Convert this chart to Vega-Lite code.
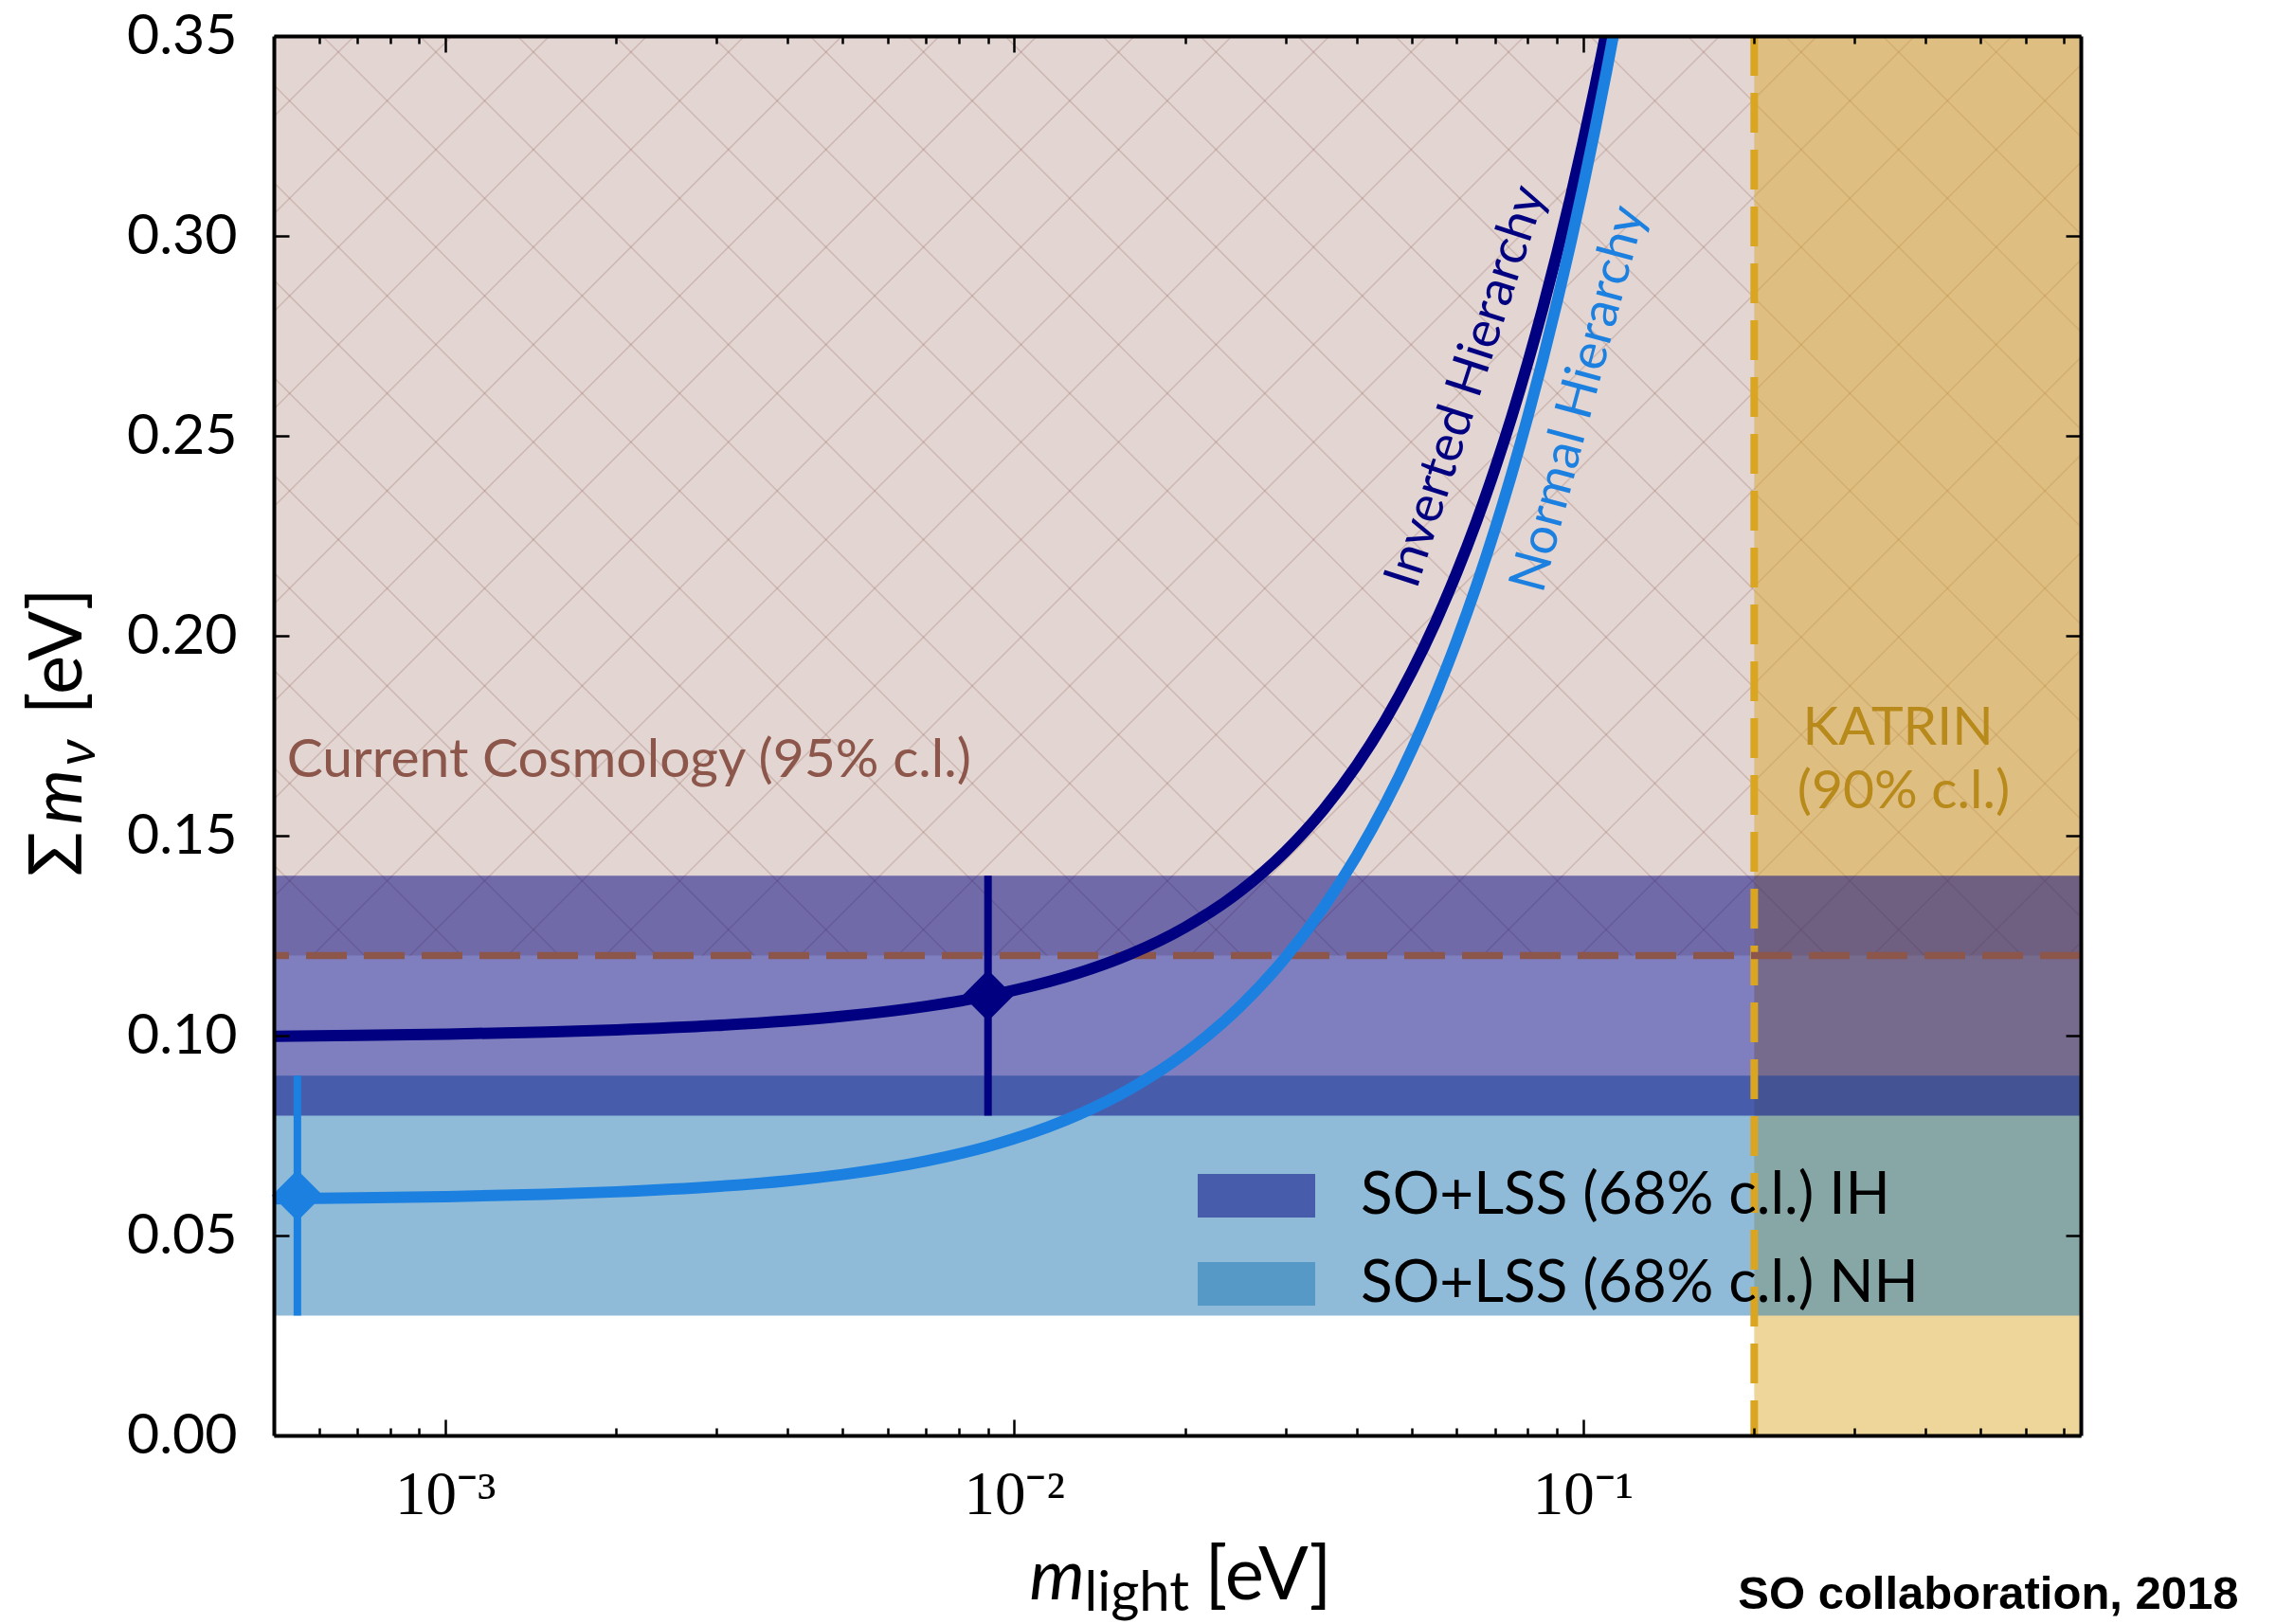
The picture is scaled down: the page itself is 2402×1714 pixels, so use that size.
{
  "$schema": "https://vega.github.io/schema/vega-lite/v6.json",
  "width": 1907,
  "height": 1477,
  "autosize": "none",
  "padding": {"left": 289, "top": 38, "right": 206, "bottom": 199},
  "background": "white",
  "config": {"view": {"stroke": null}, "font": "Lato"},
  "data": {"values": [{}]},
  "datasets": {
    "curves": [
      {"m": 0.0005, "ih": 0.09985, "nh": 0.05918},
      {"m": 0.0007, "ih": 0.10006, "nh": 0.05939},
      {"m": 0.001, "ih": 0.10037, "nh": 0.05973},
      {"m": 0.0015, "ih": 0.10089, "nh": 0.06031},
      {"m": 0.002, "ih": 0.10143, "nh": 0.06093},
      {"m": 0.003, "ih": 0.10253, "nh": 0.06226},
      {"m": 0.004, "ih": 0.10367, "nh": 0.0637},
      {"m": 0.005, "ih": 0.10485, "nh": 0.06525},
      {"m": 0.007, "ih": 0.10733, "nh": 0.06862},
      {"m": 0.009, "ih": 0.10996, "nh": 0.07229},
      {"m": 0.01, "ih": 0.11134, "nh": 0.07422},
      {"m": 0.013, "ih": 0.11569, "nh": 0.08028},
      {"m": 0.016, "ih": 0.12037, "nh": 0.08669},
      {"m": 0.02, "ih": 0.1271, "nh": 0.09565},
      {"m": 0.025, "ih": 0.13622, "nh": 0.10736},
      {"m": 0.03, "ih": 0.14606, "nh": 0.11954},
      {"m": 0.035, "ih": 0.15653, "nh": 0.13209},
      {"m": 0.04, "ih": 0.16755, "nh": 0.14496},
      {"m": 0.045, "ih": 0.17905, "nh": 0.15809},
      {"m": 0.05, "ih": 0.19096, "nh": 0.17146},
      {"m": 0.055, "ih": 0.20322, "nh": 0.18501},
      {"m": 0.06, "ih": 0.21579, "nh": 0.19872},
      {"m": 0.065, "ih": 0.22862, "nh": 0.21258},
      {"m": 0.07, "ih": 0.24167, "nh": 0.22656},
      {"m": 0.075, "ih": 0.25492, "nh": 0.24064},
      {"m": 0.08, "ih": 0.26833, "nh": 0.25481},
      {"m": 0.085, "ih": 0.2819, "nh": 0.26906},
      {"m": 0.09, "ih": 0.2956, "nh": 0.28337},
      {"m": 0.095, "ih": 0.30941, "nh": 0.29775},
      {"m": 0.1, "ih": 0.32332, "nh": 0.31218},
      {"m": 0.105, "ih": 0.33732, "nh": 0.32665},
      {"m": 0.11, "ih": 0.35139, "nh": 0.34117},
      {"m": 0.115, "ih": 0.36554, "nh": 0.35573},
      {"m": 0.12, "ih": 0.37975, "nh": 0.37031}
    ],
    "points": [
      {"h": "IH", "m": 0.009, "s": 0.11, "lo": 0.08, "hi": 0.14},
      {"h": "NH", "m": 0.00055, "s": 0.06, "lo": 0.03, "hi": 0.09}
    ]
  },
  "resolve": {"axis": {"x": "independent", "y": "independent"}},
  "layer": [
    {
      "data": {"values": [{"limit": 0.12}]},
      "mark": {"type": "rect", "fill": "#8c564b", "fillOpacity": 0.25},
      "encoding": {
        "y": {"field": "limit", "type": "quantitative", "scale": {"domain": [0, 0.35], "nice": false, "zero": false},
          "axis": {"orient": "left", "values": [0, 0.05, 0.1, 0.15, 0.2, 0.25, 0.3, 0.35], "format": ".2f", "labelFont": "Lato", "labelFontSize": 59, "labelColor": "black", "labelBaseline": "middle", "labelPadding": 55, "tickSize": -16, "tickWidth": 2.5, "tickColor": "black", "domainColor": "black", "domainWidth": 4, "title": null, "grid": false, "zindex": 1, "labelFlush": false, "labelOverlap": false}},
        "y2": {"datum": 0.35}
      }
    },
    {
      "data": {"values": [{"limit": 0.12}]},
      "mark": {"type": "rect", "fill": {"gradient": "linear", "x1": 0, "y1": 0, "x2": 1.1987, "y2": 0.6101, "stops": [
        {"offset": 0.02894, "color": "rgba(140,86,75,0)"}, {"offset": 0.02934, "color": "rgba(140,86,75,0.22)"}, {"offset": 0.02974, "color": "rgba(140,86,75,0.22)"}, {"offset": 0.03014, "color": "rgba(140,86,75,0)"},
        {"offset": 0.0647, "color": "rgba(140,86,75,0)"}, {"offset": 0.0651, "color": "rgba(140,86,75,0.22)"}, {"offset": 0.0655, "color": "rgba(140,86,75,0.22)"}, {"offset": 0.0659, "color": "rgba(140,86,75,0)"},
        {"offset": 0.10046, "color": "rgba(140,86,75,0)"}, {"offset": 0.10086, "color": "rgba(140,86,75,0.22)"}, {"offset": 0.10126, "color": "rgba(140,86,75,0.22)"}, {"offset": 0.10166, "color": "rgba(140,86,75,0)"},
        {"offset": 0.13622, "color": "rgba(140,86,75,0)"}, {"offset": 0.13662, "color": "rgba(140,86,75,0.22)"}, {"offset": 0.13702, "color": "rgba(140,86,75,0.22)"}, {"offset": 0.13742, "color": "rgba(140,86,75,0)"},
        {"offset": 0.17198, "color": "rgba(140,86,75,0)"}, {"offset": 0.17238, "color": "rgba(140,86,75,0.22)"}, {"offset": 0.17278, "color": "rgba(140,86,75,0.22)"}, {"offset": 0.17318, "color": "rgba(140,86,75,0)"},
        {"offset": 0.20773, "color": "rgba(140,86,75,0)"}, {"offset": 0.20813, "color": "rgba(140,86,75,0.22)"}, {"offset": 0.20853, "color": "rgba(140,86,75,0.22)"}, {"offset": 0.20893, "color": "rgba(140,86,75,0)"},
        {"offset": 0.24349, "color": "rgba(140,86,75,0)"}, {"offset": 0.24389, "color": "rgba(140,86,75,0.22)"}, {"offset": 0.24429, "color": "rgba(140,86,75,0.22)"}, {"offset": 0.24469, "color": "rgba(140,86,75,0)"},
        {"offset": 0.27925, "color": "rgba(140,86,75,0)"}, {"offset": 0.27965, "color": "rgba(140,86,75,0.22)"}, {"offset": 0.28005, "color": "rgba(140,86,75,0.22)"}, {"offset": 0.28045, "color": "rgba(140,86,75,0)"},
        {"offset": 0.31501, "color": "rgba(140,86,75,0)"}, {"offset": 0.31541, "color": "rgba(140,86,75,0.22)"}, {"offset": 0.31581, "color": "rgba(140,86,75,0.22)"}, {"offset": 0.31621, "color": "rgba(140,86,75,0)"},
        {"offset": 0.35077, "color": "rgba(140,86,75,0)"}, {"offset": 0.35117, "color": "rgba(140,86,75,0.22)"}, {"offset": 0.35157, "color": "rgba(140,86,75,0.22)"}, {"offset": 0.35197, "color": "rgba(140,86,75,0)"},
        {"offset": 0.38653, "color": "rgba(140,86,75,0)"}, {"offset": 0.38693, "color": "rgba(140,86,75,0.22)"}, {"offset": 0.38733, "color": "rgba(140,86,75,0.22)"}, {"offset": 0.38773, "color": "rgba(140,86,75,0)"},
        {"offset": 0.42229, "color": "rgba(140,86,75,0)"}, {"offset": 0.42269, "color": "rgba(140,86,75,0.22)"}, {"offset": 0.42309, "color": "rgba(140,86,75,0.22)"}, {"offset": 0.42349, "color": "rgba(140,86,75,0)"},
        {"offset": 0.45805, "color": "rgba(140,86,75,0)"}, {"offset": 0.45845, "color": "rgba(140,86,75,0.22)"}, {"offset": 0.45885, "color": "rgba(140,86,75,0.22)"}, {"offset": 0.45925, "color": "rgba(140,86,75,0)"},
        {"offset": 0.49381, "color": "rgba(140,86,75,0)"}, {"offset": 0.49421, "color": "rgba(140,86,75,0.22)"}, {"offset": 0.49461, "color": "rgba(140,86,75,0.22)"}, {"offset": 0.49501, "color": "rgba(140,86,75,0)"},
        {"offset": 0.52957, "color": "rgba(140,86,75,0)"}, {"offset": 0.52997, "color": "rgba(140,86,75,0.22)"}, {"offset": 0.53037, "color": "rgba(140,86,75,0.22)"}, {"offset": 0.53077, "color": "rgba(140,86,75,0)"},
        {"offset": 0.56532, "color": "rgba(140,86,75,0)"}, {"offset": 0.56572, "color": "rgba(140,86,75,0.22)"}, {"offset": 0.56612, "color": "rgba(140,86,75,0.22)"}, {"offset": 0.56652, "color": "rgba(140,86,75,0)"},
        {"offset": 0.60108, "color": "rgba(140,86,75,0)"}, {"offset": 0.60148, "color": "rgba(140,86,75,0.22)"}, {"offset": 0.60188, "color": "rgba(140,86,75,0.22)"}, {"offset": 0.60228, "color": "rgba(140,86,75,0)"},
        {"offset": 0.63684, "color": "rgba(140,86,75,0)"}, {"offset": 0.63724, "color": "rgba(140,86,75,0.22)"}, {"offset": 0.63764, "color": "rgba(140,86,75,0.22)"}, {"offset": 0.63804, "color": "rgba(140,86,75,0)"},
        {"offset": 0.6726, "color": "rgba(140,86,75,0)"}, {"offset": 0.673, "color": "rgba(140,86,75,0.22)"}, {"offset": 0.6734, "color": "rgba(140,86,75,0.22)"}, {"offset": 0.6738, "color": "rgba(140,86,75,0)"},
        {"offset": 0.70836, "color": "rgba(140,86,75,0)"}, {"offset": 0.70876, "color": "rgba(140,86,75,0.22)"}, {"offset": 0.70916, "color": "rgba(140,86,75,0.22)"}, {"offset": 0.70956, "color": "rgba(140,86,75,0)"},
        {"offset": 0.74412, "color": "rgba(140,86,75,0)"}, {"offset": 0.74452, "color": "rgba(140,86,75,0.22)"}, {"offset": 0.74492, "color": "rgba(140,86,75,0.22)"}, {"offset": 0.74532, "color": "rgba(140,86,75,0)"},
        {"offset": 0.77988, "color": "rgba(140,86,75,0)"}, {"offset": 0.78028, "color": "rgba(140,86,75,0.22)"}, {"offset": 0.78068, "color": "rgba(140,86,75,0.22)"}, {"offset": 0.78108, "color": "rgba(140,86,75,0)"},
        {"offset": 0.81564, "color": "rgba(140,86,75,0)"}, {"offset": 0.81604, "color": "rgba(140,86,75,0.22)"}, {"offset": 0.81644, "color": "rgba(140,86,75,0.22)"}, {"offset": 0.81684, "color": "rgba(140,86,75,0)"},
        {"offset": 0.8514, "color": "rgba(140,86,75,0)"}, {"offset": 0.8518, "color": "rgba(140,86,75,0.22)"}, {"offset": 0.8522, "color": "rgba(140,86,75,0.22)"}, {"offset": 0.8526, "color": "rgba(140,86,75,0)"},
        {"offset": 0.88716, "color": "rgba(140,86,75,0)"}, {"offset": 0.88756, "color": "rgba(140,86,75,0.22)"}, {"offset": 0.88796, "color": "rgba(140,86,75,0.22)"}, {"offset": 0.88836, "color": "rgba(140,86,75,0)"},
        {"offset": 0.92291, "color": "rgba(140,86,75,0)"}, {"offset": 0.92331, "color": "rgba(140,86,75,0.22)"}, {"offset": 0.92371, "color": "rgba(140,86,75,0.22)"}, {"offset": 0.92411, "color": "rgba(140,86,75,0)"},
        {"offset": 0.95867, "color": "rgba(140,86,75,0)"}, {"offset": 0.95907, "color": "rgba(140,86,75,0.22)"}, {"offset": 0.95947, "color": "rgba(140,86,75,0.22)"}, {"offset": 0.95987, "color": "rgba(140,86,75,0)"},
        {"offset": 0.99443, "color": "rgba(140,86,75,0)"}, {"offset": 0.99483, "color": "rgba(140,86,75,0.22)"}, {"offset": 0.99523, "color": "rgba(140,86,75,0.22)"}, {"offset": 0.99563, "color": "rgba(140,86,75,0)"}
      ]}},
      "encoding": {"y": {"field": "limit", "type": "quantitative", "axis": null}, "y2": {"datum": 0.35}}
    },
    {
      "data": {"values": [{"limit": 0.12}]},
      "mark": {"type": "rect", "fill": {"gradient": "linear", "x1": 0, "y1": 1, "x2": 1.1987, "y2": 0.3899, "stops": [
        {"offset": 0.03259, "color": "rgba(140,86,75,0)"}, {"offset": 0.03299, "color": "rgba(140,86,75,0.22)"}, {"offset": 0.03339, "color": "rgba(140,86,75,0.22)"}, {"offset": 0.03379, "color": "rgba(140,86,75,0)"},
        {"offset": 0.06835, "color": "rgba(140,86,75,0)"}, {"offset": 0.06875, "color": "rgba(140,86,75,0.22)"}, {"offset": 0.06915, "color": "rgba(140,86,75,0.22)"}, {"offset": 0.06955, "color": "rgba(140,86,75,0)"},
        {"offset": 0.10411, "color": "rgba(140,86,75,0)"}, {"offset": 0.10451, "color": "rgba(140,86,75,0.22)"}, {"offset": 0.10491, "color": "rgba(140,86,75,0.22)"}, {"offset": 0.10531, "color": "rgba(140,86,75,0)"},
        {"offset": 0.13986, "color": "rgba(140,86,75,0)"}, {"offset": 0.14026, "color": "rgba(140,86,75,0.22)"}, {"offset": 0.14066, "color": "rgba(140,86,75,0.22)"}, {"offset": 0.14106, "color": "rgba(140,86,75,0)"},
        {"offset": 0.17562, "color": "rgba(140,86,75,0)"}, {"offset": 0.17602, "color": "rgba(140,86,75,0.22)"}, {"offset": 0.17642, "color": "rgba(140,86,75,0.22)"}, {"offset": 0.17682, "color": "rgba(140,86,75,0)"},
        {"offset": 0.21138, "color": "rgba(140,86,75,0)"}, {"offset": 0.21178, "color": "rgba(140,86,75,0.22)"}, {"offset": 0.21218, "color": "rgba(140,86,75,0.22)"}, {"offset": 0.21258, "color": "rgba(140,86,75,0)"},
        {"offset": 0.24714, "color": "rgba(140,86,75,0)"}, {"offset": 0.24754, "color": "rgba(140,86,75,0.22)"}, {"offset": 0.24794, "color": "rgba(140,86,75,0.22)"}, {"offset": 0.24834, "color": "rgba(140,86,75,0)"},
        {"offset": 0.2829, "color": "rgba(140,86,75,0)"}, {"offset": 0.2833, "color": "rgba(140,86,75,0.22)"}, {"offset": 0.2837, "color": "rgba(140,86,75,0.22)"}, {"offset": 0.2841, "color": "rgba(140,86,75,0)"},
        {"offset": 0.31866, "color": "rgba(140,86,75,0)"}, {"offset": 0.31906, "color": "rgba(140,86,75,0.22)"}, {"offset": 0.31946, "color": "rgba(140,86,75,0.22)"}, {"offset": 0.31986, "color": "rgba(140,86,75,0)"},
        {"offset": 0.35442, "color": "rgba(140,86,75,0)"}, {"offset": 0.35482, "color": "rgba(140,86,75,0.22)"}, {"offset": 0.35522, "color": "rgba(140,86,75,0.22)"}, {"offset": 0.35562, "color": "rgba(140,86,75,0)"},
        {"offset": 0.39018, "color": "rgba(140,86,75,0)"}, {"offset": 0.39058, "color": "rgba(140,86,75,0.22)"}, {"offset": 0.39098, "color": "rgba(140,86,75,0.22)"}, {"offset": 0.39138, "color": "rgba(140,86,75,0)"},
        {"offset": 0.42594, "color": "rgba(140,86,75,0)"}, {"offset": 0.42634, "color": "rgba(140,86,75,0.22)"}, {"offset": 0.42674, "color": "rgba(140,86,75,0.22)"}, {"offset": 0.42714, "color": "rgba(140,86,75,0)"},
        {"offset": 0.46169, "color": "rgba(140,86,75,0)"}, {"offset": 0.46209, "color": "rgba(140,86,75,0.22)"}, {"offset": 0.46249, "color": "rgba(140,86,75,0.22)"}, {"offset": 0.46289, "color": "rgba(140,86,75,0)"},
        {"offset": 0.49745, "color": "rgba(140,86,75,0)"}, {"offset": 0.49785, "color": "rgba(140,86,75,0.22)"}, {"offset": 0.49825, "color": "rgba(140,86,75,0.22)"}, {"offset": 0.49865, "color": "rgba(140,86,75,0)"},
        {"offset": 0.53321, "color": "rgba(140,86,75,0)"}, {"offset": 0.53361, "color": "rgba(140,86,75,0.22)"}, {"offset": 0.53401, "color": "rgba(140,86,75,0.22)"}, {"offset": 0.53441, "color": "rgba(140,86,75,0)"},
        {"offset": 0.56897, "color": "rgba(140,86,75,0)"}, {"offset": 0.56937, "color": "rgba(140,86,75,0.22)"}, {"offset": 0.56977, "color": "rgba(140,86,75,0.22)"}, {"offset": 0.57017, "color": "rgba(140,86,75,0)"},
        {"offset": 0.60473, "color": "rgba(140,86,75,0)"}, {"offset": 0.60513, "color": "rgba(140,86,75,0.22)"}, {"offset": 0.60553, "color": "rgba(140,86,75,0.22)"}, {"offset": 0.60593, "color": "rgba(140,86,75,0)"},
        {"offset": 0.64049, "color": "rgba(140,86,75,0)"}, {"offset": 0.64089, "color": "rgba(140,86,75,0.22)"}, {"offset": 0.64129, "color": "rgba(140,86,75,0.22)"}, {"offset": 0.64169, "color": "rgba(140,86,75,0)"},
        {"offset": 0.67625, "color": "rgba(140,86,75,0)"}, {"offset": 0.67665, "color": "rgba(140,86,75,0.22)"}, {"offset": 0.67705, "color": "rgba(140,86,75,0.22)"}, {"offset": 0.67745, "color": "rgba(140,86,75,0)"},
        {"offset": 0.71201, "color": "rgba(140,86,75,0)"}, {"offset": 0.71241, "color": "rgba(140,86,75,0.22)"}, {"offset": 0.71281, "color": "rgba(140,86,75,0.22)"}, {"offset": 0.71321, "color": "rgba(140,86,75,0)"},
        {"offset": 0.74777, "color": "rgba(140,86,75,0)"}, {"offset": 0.74817, "color": "rgba(140,86,75,0.22)"}, {"offset": 0.74857, "color": "rgba(140,86,75,0.22)"}, {"offset": 0.74897, "color": "rgba(140,86,75,0)"},
        {"offset": 0.78352, "color": "rgba(140,86,75,0)"}, {"offset": 0.78392, "color": "rgba(140,86,75,0.22)"}, {"offset": 0.78432, "color": "rgba(140,86,75,0.22)"}, {"offset": 0.78472, "color": "rgba(140,86,75,0)"},
        {"offset": 0.81928, "color": "rgba(140,86,75,0)"}, {"offset": 0.81968, "color": "rgba(140,86,75,0.22)"}, {"offset": 0.82008, "color": "rgba(140,86,75,0.22)"}, {"offset": 0.82048, "color": "rgba(140,86,75,0)"},
        {"offset": 0.85504, "color": "rgba(140,86,75,0)"}, {"offset": 0.85544, "color": "rgba(140,86,75,0.22)"}, {"offset": 0.85584, "color": "rgba(140,86,75,0.22)"}, {"offset": 0.85624, "color": "rgba(140,86,75,0)"},
        {"offset": 0.8908, "color": "rgba(140,86,75,0)"}, {"offset": 0.8912, "color": "rgba(140,86,75,0.22)"}, {"offset": 0.8916, "color": "rgba(140,86,75,0.22)"}, {"offset": 0.892, "color": "rgba(140,86,75,0)"},
        {"offset": 0.92656, "color": "rgba(140,86,75,0)"}, {"offset": 0.92696, "color": "rgba(140,86,75,0.22)"}, {"offset": 0.92736, "color": "rgba(140,86,75,0.22)"}, {"offset": 0.92776, "color": "rgba(140,86,75,0)"},
        {"offset": 0.96232, "color": "rgba(140,86,75,0)"}, {"offset": 0.96272, "color": "rgba(140,86,75,0.22)"}, {"offset": 0.96312, "color": "rgba(140,86,75,0.22)"}, {"offset": 0.96352, "color": "rgba(140,86,75,0)"},
        {"offset": 0.99808, "color": "rgba(140,86,75,0)"}, {"offset": 0.99848, "color": "rgba(140,86,75,0.22)"}, {"offset": 0.99888, "color": "rgba(140,86,75,0.22)"}, {"offset": 0.99928, "color": "rgba(140,86,75,0)"}
      ]}},
      "encoding": {"y": {"field": "limit", "type": "quantitative", "axis": null}, "y2": {"datum": 0.35}}
    },
    {
      "data": {"values": [{"limit": 0.2}]},
      "mark": {"type": "rect", "fill": "#daa520", "fillOpacity": 0.45},
      "encoding": {
        "x": {"field": "limit", "type": "quantitative", "scale": {"type": "log", "domain": [0.0005, 0.75], "nice": false},
          "axis": {"orient": "bottom", "values": [0.0006, 0.0007, 0.0008, 0.0009, 0.001, 0.002, 0.003, 0.004, 0.005, 0.006, 0.007, 0.008, 0.009, 0.01, 0.02, 0.03, 0.04, 0.05, 0.06, 0.07, 0.08, 0.09, 0.1, 0.2, 0.3, 0.4, 0.5, 0.6, 0.7],
            "labelExpr": "datum.value == 0.001 ? '10⁻³' : datum.value == 0.01 ? '10⁻²' : datum.value == 0.1 ? '10⁻¹' : ''",
            "labelFont": "Liberation Serif", "labelFontSize": 65, "labelColor": "black", "labelBaseline": "alphabetic", "labelPadding": 99, "labelFlush": false, "labelOverlap": false, "labelBound": false,
            "tickSize": {"condition": {"test": "datum.value == 0.001 || datum.value == 0.01 || datum.value == 0.1", "value": -17}, "value": -8},
            "tickWidth": 2.5, "tickColor": "black", "domainColor": "black", "domainWidth": 4, "title": null, "grid": false, "zindex": 1}},
        "x2": {"datum": 0.75}
      }
    },
    {
      "data": {"values": [
        {"band": "SO+LSS (68% c.l.) NH", "lo": 0.03, "hi": 0.09},
        {"band": "SO+LSS (68% c.l.) IH", "lo": 0.08, "hi": 0.14}
      ]},
      "mark": {"type": "rect", "fillOpacity": 0.5},
      "encoding": {
        "y": {"field": "lo", "type": "quantitative", "axis": null},
        "y2": {"field": "hi"},
        "fill": {"field": "band", "type": "nominal",
          "scale": {"domain": ["SO+LSS (68% c.l.) IH", "SO+LSS (68% c.l.) NH"], "range": ["#000080", "#1f77b4"]},
          "legend": {"orient": "none", "legendX": 975, "legendY": 1201, "title": null, "padding": 0,
            "symbolType": "M-1,-0.371H1V0.371H-1Z", "symbolSize": 15376, "symbolOpacity": 0.5, "symbolStrokeWidth": 0,
            "labelFont": "Lato", "labelFontSize": 62, "labelColor": "black", "labelLimit": 1000, "labelOffset": 48,
            "clipHeight": 46, "rowPadding": 31}}
      }
    },
    {
      "data": {"values": [{"limit": 0.2}]},
      "mark": {"type": "rule", "color": "#daa520", "strokeWidth": 8, "strokeDash": [42, 18]},
      "encoding": {"x": {"field": "limit", "type": "quantitative", "axis": null}}
    },
    {
      "data": {"values": [{"limit": 0.12}]},
      "mark": {"type": "rule", "color": "#8c564b", "strokeWidth": 7.5, "strokeDash": [43, 18]},
      "encoding": {"y": {"field": "limit", "type": "quantitative", "axis": null}}
    },
    {
      "data": {"name": "curves"},
      "mark": {"type": "line", "color": "#000080", "strokeWidth": 12, "clip": true, "interpolate": "monotone"},
      "encoding": {
        "x": {"field": "m", "type": "quantitative",
          "axis": {"orient": "top", "values": [0.0006, 0.0007, 0.0008, 0.0009, 0.001, 0.002, 0.003, 0.004, 0.005, 0.006, 0.007, 0.008, 0.009, 0.01, 0.02, 0.03, 0.04, 0.05, 0.06, 0.07, 0.08, 0.09, 0.1, 0.2, 0.3, 0.4, 0.5, 0.6, 0.7],
            "labels": false, "tickSize": {"condition": {"test": "datum.value == 0.001 || datum.value == 0.01 || datum.value == 0.1", "value": -17}, "value": -8},
            "tickWidth": 2.5, "tickColor": "black", "domainColor": "black", "domainWidth": 4, "title": null, "grid": false, "zindex": 1}},
        "y": {"field": "ih", "type": "quantitative",
          "axis": {"orient": "right", "values": [0, 0.05, 0.1, 0.15, 0.2, 0.25, 0.3, 0.35], "labels": false, "tickSize": -16, "tickWidth": 2.5, "tickColor": "black", "domainColor": "black", "domainWidth": 4, "title": null, "grid": false, "zindex": 1}}
      }
    },
    {
      "data": {"name": "curves"},
      "mark": {"type": "line", "color": "#1c80e0", "strokeWidth": 12, "clip": true, "interpolate": "monotone"},
      "encoding": {
        "x": {"field": "m", "type": "quantitative", "axis": null},
        "y": {"field": "nh", "type": "quantitative", "axis": null}
      }
    },
    {
      "data": {"name": "points"},
      "mark": {"type": "rule", "strokeWidth": 8},
      "encoding": {
        "x": {"field": "m", "type": "quantitative", "axis": null},
        "y": {"field": "lo", "type": "quantitative", "axis": null},
        "y2": {"field": "hi"},
        "color": {"field": "h", "type": "nominal", "scale": {"domain": ["IH", "NH"], "range": ["#000080", "#1c80e0"]}, "legend": null}
      }
    },
    {
      "data": {"name": "points"},
      "mark": {"type": "point", "shape": "diamond", "filled": true, "size": 2900, "opacity": 1, "strokeWidth": 0},
      "encoding": {
        "x": {"field": "m", "type": "quantitative", "axis": null},
        "y": {"field": "s", "type": "quantitative", "axis": null},
        "color": {"field": "h", "type": "nominal", "legend": null}
      }
    },
    {
      "mark": {"type": "text", "text": "Current Cosmology (95% c.l.)", "font": "Lato", "fontSize": 57, "color": "#8c564b", "align": "left", "baseline": "alphabetic"},
      "encoding": {"x": {"datum": 0.000527, "type": "quantitative", "axis": null}, "y": {"datum": 0.1647, "type": "quantitative", "axis": null}}
    },
    {
      "mark": {"type": "text", "text": "KATRIN", "font": "Lato", "fontSize": 57, "color": "#b8891b", "align": "center", "baseline": "alphabetic"},
      "encoding": {"x": {"datum": 0.358, "type": "quantitative", "axis": null}, "y": {"datum": 0.1727, "type": "quantitative", "axis": null}}
    },
    {
      "mark": {"type": "text", "text": "(90% c.l.)", "font": "Lato", "fontSize": 57, "color": "#b8891b", "align": "center", "baseline": "alphabetic"},
      "encoding": {"x": {"datum": 0.366, "type": "quantitative", "axis": null}, "y": {"datum": 0.1569, "type": "quantitative", "axis": null}}
    },
    {
      "mark": {"type": "text", "text": "Inverted Hierarchy", "font": "Lato", "fontSize": 54, "color": "#000080", "align": "center", "baseline": "middle", "angle": 288},
      "encoding": {"x": {"datum": 0.0625, "type": "quantitative", "axis": null}, "y": {"datum": 0.2623, "type": "quantitative", "axis": null}}
    },
    {
      "mark": {"type": "text", "text": "Normal Hierarchy", "font": "Lato", "fontSize": 54, "color": "#1c80e0", "align": "center", "baseline": "middle", "angle": 285},
      "encoding": {"x": {"datum": 0.0985, "type": "quantitative", "axis": null}, "y": {"datum": 0.2592, "type": "quantitative", "axis": null}}
    },
    {
      "mark": {"type": "text", "text": "m", "font": "Lato", "fontStyle": "italic", "fontSize": 74, "color": "black", "align": "left", "baseline": "alphabetic"},
      "encoding": {"x": {"datum": 0.01065, "type": "quantitative", "axis": null}, "y": {"datum": -0.041, "type": "quantitative", "axis": null}}
    },
    {
      "mark": {"type": "text", "text": "light", "font": "Lato", "fontSize": 58, "color": "black", "align": "left", "baseline": "alphabetic"},
      "encoding": {"x": {"datum": 0.0133, "type": "quantitative", "axis": null}, "y": {"datum": -0.0438, "type": "quantitative", "axis": null}}
    },
    {
      "mark": {"type": "text", "text": "[eV]", "font": "Lato", "fontSize": 78, "color": "black", "align": "left", "baseline": "alphabetic"},
      "encoding": {"x": {"datum": 0.02165, "type": "quantitative", "axis": null}, "y": {"datum": -0.041, "type": "quantitative", "axis": null}}
    },
    {
      "mark": {"type": "text", "text": "Σ", "font": "Lato", "fontSize": 78, "color": "black", "align": "left", "baseline": "alphabetic", "angle": 270},
      "encoding": {"x": {"datum": 0.0002293, "type": "quantitative", "axis": null}, "y": {"datum": 0.1398, "type": "quantitative", "axis": null}}
    },
    {
      "mark": {"type": "text", "text": "m", "font": "Lato", "fontStyle": "italic", "fontSize": 74, "color": "black", "align": "left", "baseline": "alphabetic", "angle": 270},
      "encoding": {"x": {"datum": 0.0002293, "type": "quantitative", "axis": null}, "y": {"datum": 0.1528, "type": "quantitative", "axis": null}}
    },
    {
      "mark": {"type": "text", "text": "ν", "font": "Lato", "fontStyle": "italic", "fontSize": 58, "color": "black", "align": "left", "baseline": "alphabetic", "angle": 270},
      "encoding": {"x": {"datum": 0.000242, "type": "quantitative", "axis": null}, "y": {"datum": 0.1675, "type": "quantitative", "axis": null}}
    },
    {
      "mark": {"type": "text", "text": "[eV]", "font": "Lato", "fontSize": 78, "color": "black", "align": "left", "baseline": "alphabetic", "angle": 270},
      "encoding": {"x": {"datum": 0.0002293, "type": "quantitative", "axis": null}, "y": {"datum": 0.1803, "type": "quantitative", "axis": null}}
    },
    {
      "mark": {"type": "text", "text": "SO collaboration, 2018", "font": "Liberation Sans", "fontWeight": "bold", "fontSize": 49, "color": "black", "align": "right", "baseline": "alphabetic"},
      "encoding": {"x": {"datum": 1.4205, "type": "quantitative", "axis": null}, "y": {"datum": -0.04337, "type": "quantitative", "axis": null}}
    }
  ]
}
